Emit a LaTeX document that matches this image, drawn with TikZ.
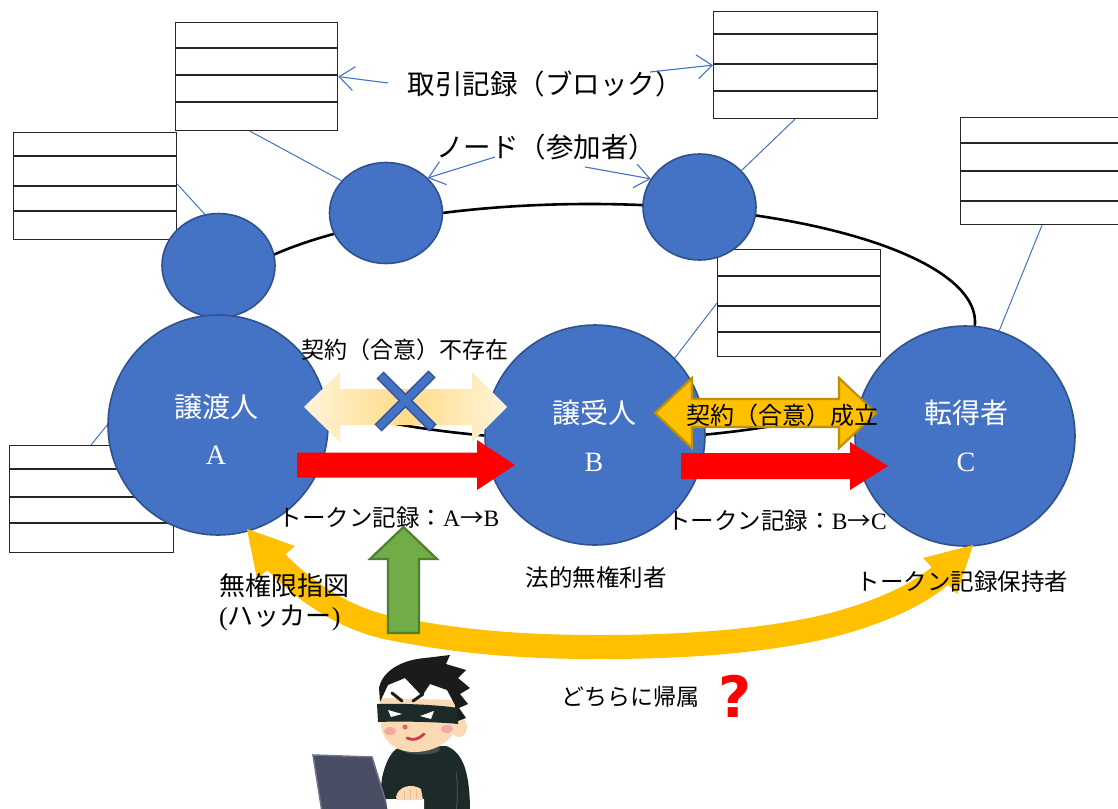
\documentclass[tikz,border=0pt]{standalone}
\usepackage{fontspec}
\setmainfont{Liberation Serif}
\newfontfamily\jpfont{Noto Sans CJK JP}
\newfontfamily\qmfont{DejaVu Sans}
\usetikzlibrary{arrows.meta,shapes.geometric}

\definecolor{nodeblue}{HTML}{4472C4}
\definecolor{nodeedge}{HTML}{2F528F}
\definecolor{gold}{HTML}{FFC000}
\definecolor{goldedge}{HTML}{BF9000}
\definecolor{leaf}{HTML}{70AD47}
\definecolor{leafedge}{HTML}{507E32}
\definecolor{paleend}{HTML}{FFF4DC}
\definecolor{palemid}{HTML}{FFDC85}
\definecolor{hair}{HTML}{1B1B1B}
\definecolor{skin}{HTML}{FAD9B4}
\definecolor{sweater}{HTML}{1D2A2A}
\definecolor{collar}{HTML}{405050}
\definecolor{laptop}{HTML}{4A4E64}
\definecolor{laptopedge}{HTML}{6E7289}
\definecolor{cheek}{HTML}{F5A9A3}
\definecolor{lip}{HTML}{D23A45}

\pgfdeclarelayer{base}
\pgfdeclarelayer{ties}
\pgfsetlayers{base,ties,main}

\tikzset{
  bignode/.style={circle, fill=nodeblue, draw=nodeedge, line width=1.6pt,
    minimum size=220pt, inner sep=0pt},
  peer/.style={ellipse, fill=nodeblue, draw=nodeedge, line width=1.6pt,
    minimum width=113pt, inner sep=0pt},
  ledger/.style={rectangle, draw=black!85, line width=1.2pt, inner sep=0pt,
    anchor=north west},
  rowline/.style={draw=black!85, line width=1.2pt},
  tieline/.style={draw=nodeblue, line width=1pt},
  pointer/.style={draw=nodeblue, line width=1.1pt,
    -{Straight Barb[length=15pt,width=24pt]}},
  jp/.style={inner sep=0pt, font=\jpfont\fontsize{#1pt}{#1pt}\selectfont},
  jpw/.style={inner sep=0pt, text=white, font=\jpfont\fontsize{#1pt}{#1pt}\selectfont},
  latw/.style={inner sep=0pt, text=white, font=\rmfamily\fontsize{#1pt}{#1pt}\selectfont},
}

\begin{document}
\begin{tikzpicture}[x=1pt,y=-1pt]
\useasboundingbox (0,0) rectangle (1118,808);
\clip (0,0) rectangle (1118,808);
\begin{pgfonlayer}{base}
  \fill[white] (0,0) rectangle (1118,808);
\end{pgfonlayer}

% network ring
\draw[line width=2.6pt] (590,322) ellipse [x radius=385pt, y radius=118pt];

% ledgers (transaction records)
\node[ledger, minimum width=162pt, minimum height=108pt] (blk1) at (175,22) {};
\foreach \yy in {48,75,102} \draw[rowline] (175,\yy) -- (337,\yy);
\node[ledger, minimum width=164pt, minimum height=107pt] (blk2) at (713,11) {};
\foreach \yy in {34,64,91} \draw[rowline] (713,\yy) -- (877,\yy);
\node[ledger, minimum width=163pt, minimum height=107pt] (blk3) at (13,132) {};
\foreach \yy in {156,186,211} \draw[rowline] (13,\yy) -- (176,\yy);
\node[ledger, minimum width=170pt, minimum height=107pt] (blk4) at (960,117) {};
\foreach \yy in {143,171,201} \draw[rowline] (960,\yy) -- (1130,\yy);
\node[ledger, minimum width=163pt, minimum height=107pt] (blk5) at (717,249) {};
\foreach \yy in {276,306,332} \draw[rowline] (717,\yy) -- (880,\yy);
\node[ledger, minimum width=164pt, minimum height=107pt] (blk6) at (9,445) {};
\foreach \yy in {469,497,523} \draw[rowline] (9,\yy) -- (173,\yy);

% participants
\node[peer, minimum height=104pt] (n1) at (218.5,265.5) {};
\node[peer, minimum height=101pt] (n2) at (386,213) {};
\node[peer, minimum height=106pt] (n3) at (699.5,207) {};
\node[bignode] (A) at (218,425) {};
\node[bignode] (B) at (595,435) {};
\node[bignode] (C) at (965,436) {};

% ledger-to-node ties, kept behind the nodes
\begin{pgfonlayer}{ties}
  \draw[tieline] ([xshift=75pt]blk1.south west) -- (n2.144);
  \draw[tieline] ([yshift=-52pt]blk3.north east) -- (n1.105);
  \draw[tieline] ([xshift=82pt]blk2.south west) -- (n3.41);
  \draw[tieline] ([xshift=82pt]blk4.south west) -- (C.72);
  \draw[tieline] ([yshift=-54pt]blk5.north west) -- (B.44);
  \draw[tieline] ([xshift=82pt]blk6.north west) -- (A.180);
\end{pgfonlayer}

% captions with pointers
\node[jp=27.5] (capblock) at (545,84) {取引記録（ブロック）};
\node[jp=27.5] (capnode) at (546,147) {ノード（参加者）};
\coordinate (pA) at (388,83);
\coordinate (pB) at (650,72);
\coordinate (pC) at (495,157);
\coordinate (pD) at (585,167);
\draw[pointer] (pA) -- (blk1.east);
\draw[pointer] (pB) -- (blk2.west);
\draw[pointer] (pC) -- (n2.40);
\draw[pointer] (pD) -- (n3.150);

% missing contract: faded double arrow with a cross
\shade[left color=paleend, right color=paleend, middle color=palemid]
  (304,407) -- (340,372) -- (340,389) -- (472,389) -- (472,372) -- (507,407)
  -- (472,442) -- (472,425) -- (340,425) -- (340,442) -- cycle;
\draw[line width=10pt, nodeedge] (380,375) -- (433,428);
\draw[line width=10pt, nodeedge] (432,374) -- (378,428);
\draw[line width=7.4pt, nodeblue, shorten <=1.3pt, shorten >=1.3pt] (380,375) -- (433,428);
\draw[line width=7.4pt, nodeblue, shorten <=1.3pt, shorten >=1.3pt] (432,374) -- (378,428);

% token transfers
\fill[red] (297,452.5) -- (477,452.5) -- (477,440) -- (515,465) -- (477,490)
  -- (477,477.5) -- (297,477.5) -- cycle;
\fill[red] (681,453) -- (850,453) -- (850,442) -- (888,466) -- (850,490)
  -- (850,479) -- (681,479) -- cycle;

% valid contract: gold double arrow
\filldraw[fill=gold, draw=goldedge, line width=2.2pt]
  (655,413) -- (692,378) -- (692,399) -- (839,399) -- (839,378) -- (876,413)
  -- (839,448) -- (839,427) -- (692,427) -- (692,448) -- cycle;

% attribution arc between A and C
\draw[gold, line width=24pt] (268,553) .. controls (292,581) and (338,618) .. (390,628)
  .. controls (460,642) and (520,647) .. (600,647)
  .. controls (680,647) and (750,642) .. (810,630)
  .. controls (860,620) and (918,598) .. (944,572);
\fill[gold] (247,529) -- (295,546) -- (257,579) -- cycle;
\fill[gold] (973,545) -- (923,558) -- (957,594) -- cycle;

% unauthorised instruction
\filldraw[fill=leaf, draw=leafedge, line width=2.2pt]
  (403.5,527) -- (437,559) -- (419,559) -- (419,633) -- (388,633) -- (388,559)
  -- (370,559) -- cycle;

% texts
\node[jp=23] (nocontract) at (404.5,350) {契約（合意）不存在};
\node[jp=24] (contract) at (782,415) {契約（合意）成立};
\node[jpw=28] (tA) at (216,407) {譲渡人};
\node[latw=28] (lA) at (216,455) {A};
\node[jpw=28] (tB) at (594.5,413) {譲受人};
\node[latw=28] (lB) at (594,462) {B};
\node[jpw=28] (tC) at (966.5,413) {転得者};
\node[latw=28] (lC) at (966,462) {C};
\node[jp=23.5] (recAB) at (389,518) {トークン記録：{\rmfamily A}→{\rmfamily B}};
\node[jp=23.5] (recBC) at (777,521) {トークン記録：{\rmfamily B}→{\rmfamily C}};
\node[jp=23.5] (nonright) at (596,578) {法的無権利者};
\node[jp=23.5] (holder) at (962.5,582) {トークン記録保持者};
\node[jp=26, anchor=west] (hack1) at (219,586) {無権限指図};
\node[jp=26, anchor=west] (hack2) at (219,618) {{\rmfamily(}ハッカー{\rmfamily)}};
\node[jp=23] (which) at (630.5,697) {どちらに帰属};
\node[inner sep=0pt, text=red, font=\qmfont\bfseries\fontsize{57pt}{57pt}\selectfont]
  (qmark) at (735,696) {?};

% hacker at the laptop
\fill[sweater] (398,748) -- (446,746) .. controls (463,752) and (470,772) .. (470,812)
  -- (378,812) -- (382,778) .. controls (386,760) and (392,751) .. (398,748) -- cycle;
\draw[collar, line width=1pt] (456,772) .. controls (458,785) and (458,798) .. (456,812);
\fill[collar] (421,749) ellipse [x radius=19pt, y radius=5.5pt];
\fill[skin] (459,727) ellipse [x radius=8pt, y radius=10pt];
\fill[skin] (380,698) -- (381,726) .. controls (384,744) and (398,752) .. (414,752)
  .. controls (434,752) and (452,742) .. (456,726) -- (456,700) -- cycle;
\fill[hair] (380,702) -- (379,688) .. controls (382,672) and (400,660) .. (425,658)
  -- (450,655) -- (446,664) -- (466,670) -- (458,678) -- (470,688) -- (460,694)
  -- (468,704) -- (459,708) -- (466,718) -- (455,722) -- (455,705) -- (447,690)
  -- (430,684) -- (422,696) -- (405,678) -- (388,685) -- cycle;
\draw[hair, line width=3pt, line cap=round] (392,693) -- (402,701);
\draw[hair, line width=3pt, line cap=round] (413,701) -- (423,694);
\fill[sweater] (377,704) .. controls (400,703) and (440,705) .. (458,708) -- (458,724)
  .. controls (440,722) and (400,721) .. (378,722) -- cycle;
\fill[white] (388,710) -- (402,714) -- (391,717) -- cycle;
\fill[white] (434,711) -- (420,716) -- (431,719) -- cycle;
\fill[cheek] (390,731) ellipse [x radius=6pt, y radius=4pt];
\fill[cheek] (447,729) ellipse [x radius=6pt, y radius=4pt];
\fill[lip!80] (405,727) circle [radius=2.5pt];
\draw[lip, line width=2.8pt, line cap=round] (407,738) .. controls (413,741) and (419,739) .. (424,734);
\filldraw[fill=laptop, draw=laptopedge, line width=1.5pt]
  (313,755) -- (372,757) -- (389,812) -- (322,812) -- cycle;
\fill[white] (386,799) -- (424,799) -- (424,812) -- (388,812) -- cycle;
\fill[skin] (396,797) .. controls (398,786) and (412,783) .. (421,789) -- (423,800) -- (397,800) -- cycle;
\draw[skin!70!brown, line width=0.8pt] (404,791) -- (404,799) (410,789) -- (410,799) (416,789) -- (416,799);
\end{tikzpicture}
\end{document}
